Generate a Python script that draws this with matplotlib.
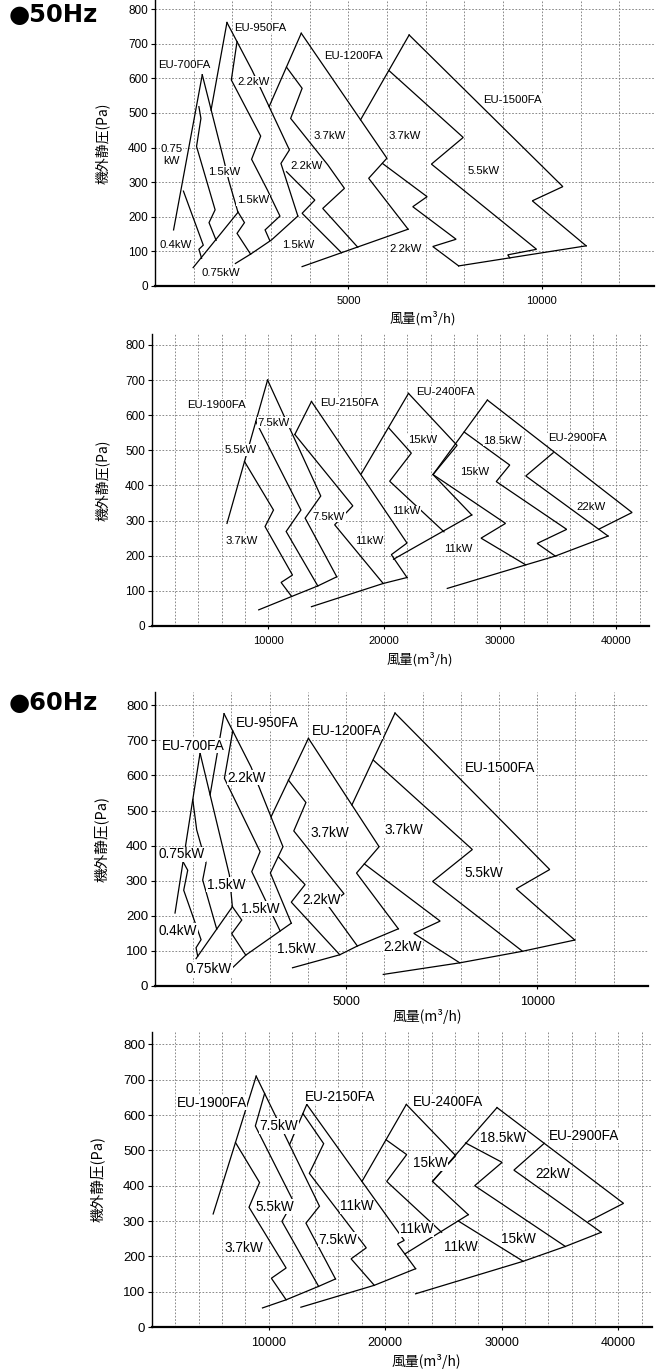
"""
plot.py
=======
Fan selection chart (EU-xxxFA series): static pressure vs. air volume,
50Hz and 60Hz, small and large models.
"""

import matplotlib

matplotlib.use("Agg")
import matplotlib.pyplot as plt

JP = ["Noto Sans CJK JP", "DejaVu Sans"]
LAT = ["Liberation Sans", "DejaVu Sans"]

# ------------------------------------------------------------------
# Data: polylines per model, (air volume m3/h, static pressure Pa)
# ------------------------------------------------------------------

# ---- 50Hz, small models ----
H50_EU700 = [
    [(480, 162), (1222, 610)],
    [(735, 274), (1248, 118), (1135, 106), (1205, 80)],
    [(1135, 518), (1187, 484), (1074, 403), (1554, 220), (1397, 183), (1580, 132)],
    [(1222, 610), (1790, 359), (1903, 306), (2139, 215)],
    [(986, 53), (2139, 212)],
]
H50_EU950 = [
    [(1449, 508), (1860, 761)],
    [(1860, 761), (2514, 622), (3475, 393), (3256, 354), (3693, 202)],
    [(2121, 706), (1973, 595), (2732, 433), (2497, 366), (2907, 277),
     (3230, 202), (2846, 162), (2968, 131)],
    [(2139, 215), (2313, 183), (2121, 152), (2471, 92)],
    [(2078, 65), (2471, 92), (3012, 133), (3693, 202)],
]
H50_EU1200 = [
    [(2950, 518), (3781, 730)],
    [(3781, 730), (5995, 369), (5524, 311), (6543, 164)],
    [(3400, 632), (3803, 571), (3507, 484), (4466, 350), (4897, 282), (4336, 224), (5241, 112)],
    [(3400, 330), (4132, 248), (3803, 210), (4822, 96)],
    [(3803, 56), (6543, 164)],
]
H50_EU1500 = [
    [(5314, 480), (6570, 725)],
    [(6570, 725), (10543, 287), (9754, 246), (11146, 116)],
    [(6050, 622), (7968, 429), (7146, 352), (9864, 106), (9119, 90), (9173, 81)],
    [(5880, 354), (7034, 258), (6664, 229), (7784, 135), (7181, 114), (7850, 58)],
    [(7850, 58), (11146, 116)],
]

# ---- 50Hz, large models ----
H50_EU1900 = [
    [(6458, 292), (9954, 700)],
    [(9954, 700), (14532, 370), (13188, 307), (15912, 140)],
    [(8943, 582), (12824, 330), (11553, 269), (14278, 114)],
    [(7966, 468), (10463, 330), (9736, 283), (12098, 145), (11117, 124), (12025, 84)],
    [(9191, 46), (12025, 84), (14278, 114), (15912, 140)],
]
H50_EU2150 = [
    [(12300, 545), (13733, 639)],
    [(13733, 639), (21960, 236), (20611, 203), (21960, 138)],
    [(12300, 545), (17293, 342), (15731, 288), (19909, 121)],
    [(13733, 55), (19909, 121), (21960, 138)],
]
H50_EU2400 = [
    [(18020, 433), (22089, 662)],
    [(22089, 662), (26272, 514), (24198, 431), (27538, 316)],
    [(20381, 564), (22333, 492), (20468, 412), (25146, 268)],
    [(20800, 190), (27538, 316)],
]
H50_EU2900 = [
    [(24198, 431), (28882, 643)],
    [(28882, 643), (41343, 323), (38510, 276)],
    [(26884, 552), (30807, 458), (29645, 411), (35712, 275), (33169, 235), (34731, 199)],
    [(24198, 431), (30445, 292), (28337, 250), (32188, 174)],
    [(34550, 493), (32188, 427), (39273, 256)],
    [(25431, 107), (32188, 174), (34731, 199), (39273, 256)],
]

# ---- 60Hz, small models ----
H60_EU700 = [
    [(524, 208), (1179, 664)],
    [(735, 354), (856, 330), (751, 273), (1205, 132), (1074, 109), (1117, 85)],
    [(990, 530), (1091, 445), (1336, 351), (1248, 302), (1615, 162)],
    [(1179, 664), (1947, 316), (2025, 226)],
    [(1074, 78), (2025, 226)],
]
H60_EU950 = [
    [(1442, 545), (1807, 776)],
    [(1807, 776), (2514, 624), (3348, 397), (3019, 322), (3566, 179)],
    [(2035, 727), (1816, 592), (2750, 383), (2532, 326), (3274, 157)],
    [(2025, 226), (2270, 188), (2008, 149), (2375, 88)],
    [(2008, 50), (2375, 88), (3566, 179)],
]
H60_EU1200 = [
    [(3036, 482), (4015, 706)],
    [(4015, 706), (5864, 397), (5273, 322), (6367, 163)],
    [(3490, 587), (3949, 523), (3632, 442), (4945, 263), (4529, 229), (5295, 114)],
    [(3230, 368), (3927, 289), (3566, 239), (4835, 89)],
    [(3599, 52), (4835, 89), (5295, 114), (6367, 163)],
]
H60_EU1500 = [
    [(5152, 516), (6280, 778)],
    [(6280, 778), (10328, 332), (9452, 277), (10984, 131)],
    [(5711, 644), (8304, 389), (7264, 298), (9616, 99)],
    [(5478, 348), (7461, 185), (6772, 150), (7975, 66)],
    [(5973, 33), (7975, 66), (9616, 99), (10984, 131)],
]

# ---- 60Hz, large models ----
H60_EU1900 = [
    [(5248, 320), (8939, 710)],
    [(8939, 710), (14368, 342), (13209, 294), (15743, 136)],
    [(9663, 661), (8867, 569), (12124, 356), (11147, 299), (14295, 115)],
    [(7166, 522), (9228, 409), (8324, 339), (11508, 167), (10242, 138), (11508, 77)],
    [(9482, 54), (11508, 77), (14295, 115), (15743, 136)],
]
H60_EU2150 = [
    [(11801, 516), (13282, 630)],
    [(13282, 630), (21641, 245), (21062, 235), (22619, 165)],
    [(12956, 604), (14729, 519), (13499, 435), (18385, 224), (17082, 193), (19072, 118)],
    [(12775, 56), (19072, 118), (22619, 165)],
]
H60_EU2400 = [
    [(18015, 412), (21822, 630)],
    [(21822, 630), (26058, 485), (24066, 412), (27137, 318)],
    [(20080, 530), (21852, 488), (20137, 412), (24852, 268)],
    [(21709, 207), (27137, 318)],
]
H60_EU2900 = [
    [(24066, 412), (29603, 621)],
    [(29603, 621), (40460, 350), (37457, 299)],
    [(26900, 521), (30038, 466), (27685, 400), (35466, 228)],
    [(33657, 520), (31051, 444), (38542, 268)],
    [(26280, 300), (31848, 186)],
    [(22619, 94), (31848, 186), (35466, 228), (38542, 268)],
]

# ---- text labels: (text, air volume, pressure) ----
H50_SMALL_LABELS = [
    ("EU-700FA", 88, 637), ("EU-950FA", 2050, 746), ("EU-1200FA", 4373, 664),
    ("EU-1500FA", 8494, 537), ("0.4kW", 120, 118), ("1.5kW", 1362, 330),
    ("2.2kW", 2121, 590), ("1.5kW", 2121, 248), ("0.75kW", 1200, 37),
    ("3.7kW", 4099, 433), ("2.2kW", 3501, 348), ("1.5kW", 3290, 118),
    ("3.7kW", 6040, 434), ("5.5kW", 8090, 333), ("2.2kW", 6050, 106),
]
H50_SMALL_CENTERED = [("0.75\nkW", 418, 378)]
H50_LARGE_LABELS = [
    ("EU-1900FA", 3015, 630), ("7.5kW", 9083, 579), ("5.5kW", 6285, 501),
    ("3.7kW", 6358, 243), ("EU-2150FA", 14459, 634), ("7.5kW", 13842, 311),
    ("11kW", 17475, 243), ("EU-2400FA", 22742, 667), ("15kW", 22016, 530),
    ("11kW", 20636, 326), ("11kW", 25177, 219), ("15kW", 26521, 439),
    ("18.5kW", 28555, 527), ("EU-2900FA", 34078, 534), ("22kW", 36548, 340),
]
H60_SMALL_LABELS = [
    ("EU-700FA", 175, 685), ("EU-950FA", 2122, 749), ("EU-1200FA", 4113, 726),
    ("EU-1500FA", 8117, 621), ("0.75kW", 98, 375), ("0.4kW", 98, 157),
    ("1.5kW", 1357, 289), ("2.2kW", 1904, 593), ("1.5kW", 2254, 220),
    ("0.75kW", 810, 48), ("3.7kW", 4070, 437), ("2.2kW", 3851, 246),
    ("1.5kW", 3194, 105), ("3.7kW", 6006, 446), ("5.5kW", 8085, 322),
    ("2.2kW", 5973, 110),
]
H60_LARGE_LABELS = [
    ("EU-1900FA", 2099, 635), ("7.5kW", 9228, 569), ("5.5kW", 8867, 341),
    ("3.7kW", 6261, 224), ("EU-2150FA", 13101, 652), ("11kW", 16141, 342),
    ("7.5kW", 14295, 247), ("EU-2400FA", 22365, 637), ("15kW", 22365, 463),
    ("11kW", 21280, 276), ("11kW", 25043, 226), ("18.5kW", 28120, 536),
    ("EU-2900FA", 34091, 541), ("22kW", 32861, 433), ("15kW", 29965, 249),
]

Y_TICKS = [0, 100, 200, 300, 400, 500, 600, 700, 800]
X_TICKS_SMALL = [5000, 10000]
X_TICKS_LARGE = [10000, 20000, 30000, 40000]
X_GRID_SMALL = list(range(1000, 13000, 1000))
X_GRID_LARGE = list(range(2000, 43000, 2000))

W, H = 661, 1371


# ------------------------------------------------------------------
# Drawing helpers
# ------------------------------------------------------------------


def make_ax(fig, left, right, top, bottom):
    """Axes placed by pixel box (left, right, top, bottom)."""
    return fig.add_axes([left / W, 1 - bottom / H, (right - left) / W, (bottom - top) / H])


def setup_ax(ax, xmax, ymax, xgrid, xticks, fs, lab_fs, xlab_pos, ylab_x):
    ax.set_xlim(0, xmax)
    ax.set_ylim(0, ymax)
    for s in ("top", "right"):
        ax.spines[s].set_visible(False)
    ax.spines["left"].set_linewidth(1.0)
    ax.spines["bottom"].set_linewidth(1.6)

    for xv in xgrid:
        ax.axvline(xv, color="#777777", lw=0.6, ls=(0, (2, 2)), zorder=0)
    for yv in Y_TICKS[1:]:
        ax.axhline(yv, color="#777777", lw=0.6, ls=(0, (2, 2)), zorder=0)

    ax.set_yticks(Y_TICKS)
    ax.set_xticks(xticks)
    ax.set_xticklabels([str(v) for v in xticks])
    ax.tick_params(axis="y", length=3, width=0.8, pad=2, labelsize=fs)
    ax.tick_params(axis="x", length=2, width=0.8, pad=5, labelsize=fs - 0.5)
    for lb in ax.get_xticklabels() + ax.get_yticklabels():
        lb.set_family(LAT)

    ax.set_ylabel("機外静圧(Pa)", family=JP, fontsize=lab_fs)
    ax.yaxis.set_label_coords(ylab_x, 0.5)
    ax.set_xlabel("風量(m³/h)", family=JP, fontsize=lab_fs - 0.5)
    ax.xaxis.set_label_coords(*xlab_pos)


def draw_models(ax, models):
    for model in models:
        for poly in model:
            xs, ys = zip(*poly)
            ax.plot(xs, ys, color="black", lw=0.9, solid_joinstyle="miter", zorder=2)


def draw_labels(ax, labels, fs, ha="left"):
    for text, x, y in labels:
        ax.text(
            x, y, text, family=LAT, fontsize=fs, ha=ha, va="center",
            multialignment="center", zorder=5,
            bbox=dict(fc="white", ec="none", pad=0.4),
        )


# ------------------------------------------------------------------
# Main
# ------------------------------------------------------------------


def main() -> None:
    fig = plt.figure(figsize=(W / 100, H / 100), dpi=100)

    # 50Hz small
    ax1 = make_ax(fig, 155, 654, 0, 286)
    setup_ax(ax1, 12900, 826, X_GRID_SMALL, X_TICKS_SMALL, 8.5, 10, (0.537, -0.087), -0.09)
    draw_models(ax1, [H50_EU700, H50_EU950, H50_EU1200, H50_EU1500])
    draw_labels(ax1, H50_SMALL_LABELS, 8.2)
    draw_labels(ax1, H50_SMALL_CENTERED, 8.2, ha="center")

    # 50Hz large
    ax2 = make_ax(fig, 152, 649, 334, 626)
    setup_ax(ax2, 42800, 831, X_GRID_LARGE, X_TICKS_LARGE, 8.5, 10, (0.539, -0.089), -0.085)
    draw_models(ax2, [H50_EU1900, H50_EU2150, H50_EU2400, H50_EU2900])
    draw_labels(ax2, H50_LARGE_LABELS, 8.2)

    # 60Hz small
    ax3 = make_ax(fig, 155, 648, 692, 986)
    setup_ax(ax3, 12900, 838, X_GRID_SMALL, X_TICKS_SMALL, 9.5, 10.5, (0.552, -0.078), -0.094)
    draw_models(ax3, [H60_EU700, H60_EU950, H60_EU1200, H60_EU1500])
    draw_labels(ax3, H60_SMALL_LABELS, 9.8)

    # 60Hz large
    ax4 = make_ax(fig, 152, 652, 1032, 1327)
    setup_ax(ax4, 42900, 835, X_GRID_LARGE, X_TICKS_LARGE, 9.5, 10.5, (0.548, -0.092), -0.095)
    draw_models(ax4, [H60_EU1900, H60_EU2150, H60_EU2400, H60_EU2900])
    draw_labels(ax4, H60_LARGE_LABELS, 9.8)

    fig.text(9 / W, 1 - 15 / H, "●50Hz", family="DejaVu Sans", fontsize=17.5,
             weight="bold", va="center")
    fig.text(9 / W, 1 - 703 / H, "●60Hz", family="DejaVu Sans", fontsize=17.5,
             weight="bold", va="center")

    fig.savefig("out.png", dpi=100, facecolor="white")


if __name__ == "__main__":
    main()
